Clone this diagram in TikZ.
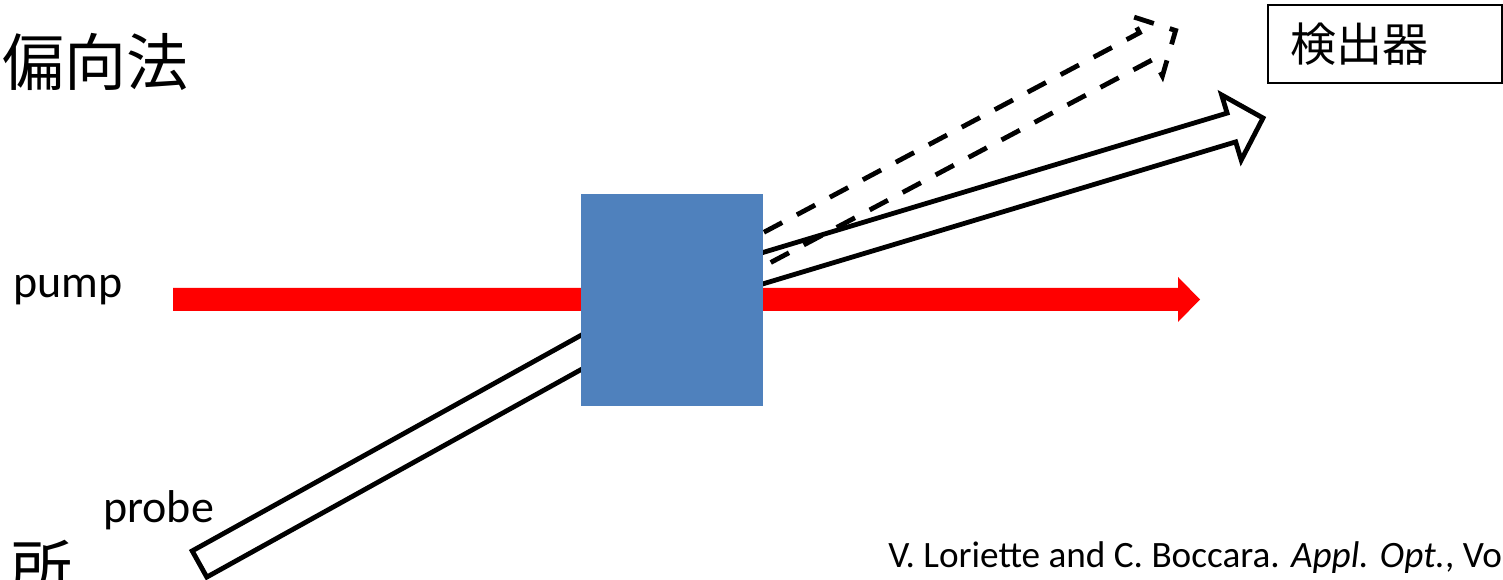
\documentclass[tikz,border=0pt]{standalone}
\usepackage{fontspec}
\setmainfont{Carlito}
\newfontfamily\jpfont{Noto Sans CJK JP}
\definecolor{boxblue}{HTML}{4F81BD}
\definecolor{pumpred}{HTML}{FF0000}
\tikzset{
  beam/.style={draw=black, line width=3.6pt, line join=miter, miter limit=10},
  straightbeam/.style={beam, dash pattern=on 15.5pt off 12.5pt},
  latinlabel/.style={font=\fontsize{34.5}{40}\selectfont, inner sep=0pt},
  jptitle/.style={font=\jpfont\fontsize{46.5}{52}\selectfont, inner sep=0pt},
}
\begin{document}
\begin{tikzpicture}[x=0.75pt,y=-0.75pt]
\useasboundingbox (0,0) rectangle (1503,580);
\clip (0,0) rectangle (1503,580);

% incoming probe beam
\draw[beam] (679.3,315.1) -- (206.8,577.1) -- (192.2,550.9) -- (664.7,288.9);
% undeflected (dashed) probe
\draw[straightbeam] (665,284.8) -- (1139.5,32.8) -- (1130.6,16) -- (1175.6,30.5) -- (1162.4,76) -- (1153.5,59.2) -- (679,311.2);
% deflected probe
\draw[beam] (667.7,281.1) -- (1227.1,113.1) -- (1221.6,94.9) -- (1263,118) -- (1241.2,160.1) -- (1235.7,141.9) -- (676.3,309.9);

% pump beam
\fill[pumpred] (173,288) -- (1178,288) -- (1178,277) -- (1200,299.5) -- (1178,322) -- (1178,311) -- (173,311) -- cycle;

% sample
\node[fill=boxblue, inner sep=0pt, minimum width=136.5pt, minimum height=159pt] (sample) at (672,300) {};

% texts
\node[jptitle] (title) at (95.5,62) {偏向法};
\node[jptitle] (place) at (41,568) {所};
\node[latinlabel, anchor=base west] (pump) at (13,298) {pump};
\node[latinlabel, anchor=base west] (probe) at (103,523) {probe};

% detector
\node[draw=black, line width=1.5pt, inner sep=0pt, minimum width=175.5pt, minimum height=58.5pt] (det) at (1385,44) {};
\node[latinlabel, font=\jpfont\fontsize{34.5}{40}\selectfont, anchor=west] (dettext) at (1290,44) {検出器};

% citation
\node[inner sep=0pt, anchor=base west, font=\fontsize{27.9}{33}\selectfont] (cite) at (888,567) {V. Loriette and C. Boccara. \textit{Appl. Opt.}, Vol};
\end{tikzpicture}
\end{document}
